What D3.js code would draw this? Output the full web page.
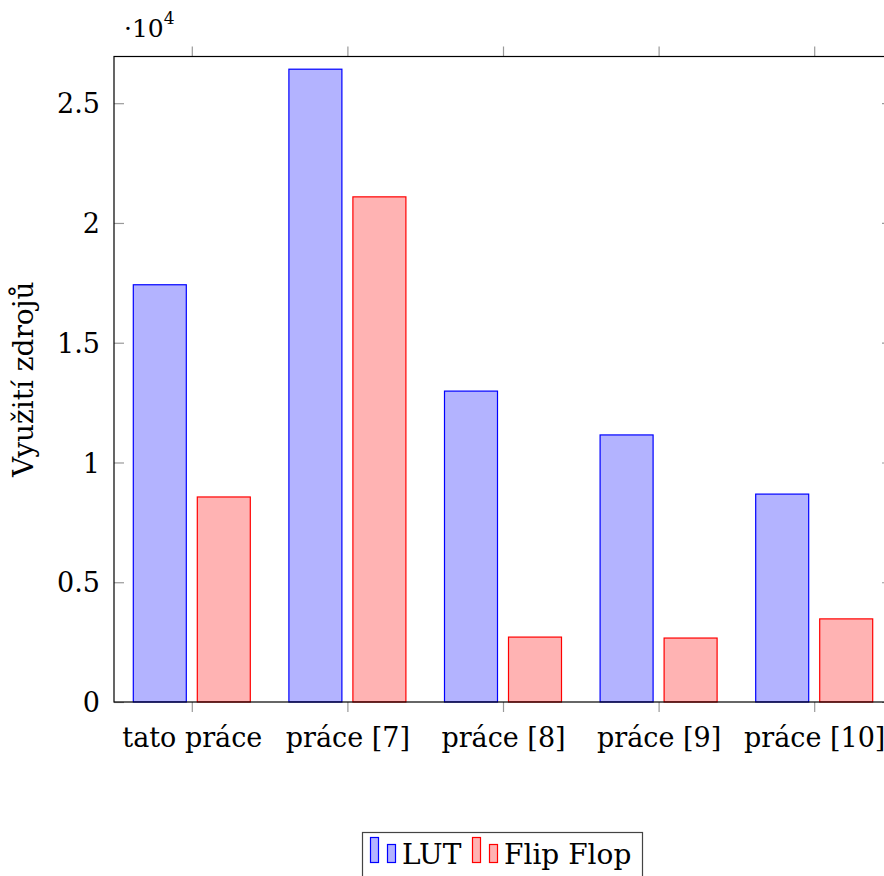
<!DOCTYPE html>
<html>
<head>
<meta charset="utf-8">
<script src="https://cdn.jsdelivr.net/npm/d3@7"></script>
<style>
  body { margin: 0; background: #fff; }
</style>
</head>
<body>
<div id="chart"></div>
<script>
const categories = ["tato práce", "práce [7]", "práce [8]", "práce [9]", "práce [10]"];
const lutValues = [17420, 26420, 12980, 11150, 8680];
const ffValues = [8560, 21090, 2710, 2670, 3470];
const seriesNames = ["LUT", "Flip Flop"];
const yTicks = [0, 5000, 10000, 15000, 20000, 25000];

const w = 884, h = 876;
const padL = 114, padR = 892, padT = 56.5, padB = 702;
const serif = "DejaVu Serif";
const fs = 27;

const svg = d3.select('#chart')
    .append('svg')
    .attr('width', w)
    .attr('height', h)
    .attr('font-family', serif);

const xScale = d3.scaleLinear()
    .domain([-0.5, categories.length - 0.5])
    .range([padL, padR]);

const yScale = d3.scaleLinear()
    .domain([0, 26950])
    .range([padB, padT]);

const barW = 53, offset = 32;

const series = [
    { name: seriesNames[0], values: lutValues, fill: "#b3b3ff", stroke: "#0000ff", dx: -offset },
    { name: seriesNames[1], values: ffValues, fill: "#ffb3b3", stroke: "#ff0000", dx: offset }
];

// bars
series.forEach(s => {
    svg.append('g').selectAll('rect')
        .data(s.values)
        .enter()
        .append('rect')
        .attr('x', (d, i) => xScale(i) + s.dx - barW / 2)
        .attr('y', d => yScale(d))
        .attr('width', barW)
        .attr('height', d => yScale(0) - yScale(d))
        .attr('fill', s.fill)
        .attr('stroke', s.stroke)
        .attr('stroke-width', 1.2);
});

// x ticks (outward top and bottom)
const xIdx = d3.range(categories.length);
const xAxis = d3.axisBottom(xScale).tickValues(xIdx).tickSize(10).tickFormat(i => categories[i]);
const gx = svg.append('g')
    .attr('id', 'x-axis')
    .attr('transform', 'translate(0,' + padB + ')')
    .call(xAxis)
    .attr('font-family', serif)
    .attr('font-size', fs);
gx.select('.domain').remove();
gx.selectAll('.tick line').attr('stroke', '#999').attr('stroke-width', 1.2);
gx.selectAll('.tick text')
    .attr('y', 45)
    .attr('dy', 0);

const gxTop = svg.append('g')
    .attr('transform', 'translate(0,' + padT + ')')
    .call(d3.axisTop(xScale).tickValues(xIdx).tickSize(10).tickFormat(''));
gxTop.select('.domain').remove();
gxTop.selectAll('.tick line').attr('stroke', '#999').attr('stroke-width', 1.2);

// y ticks (inward left and right)
const yAxis = d3.axisLeft(yScale).tickValues(yTicks).tickSize(-10).tickPadding(14)
    .tickFormat(d => String(d / 10000));
const gy = svg.append('g')
    .attr('id', 'y-axis')
    .attr('transform', 'translate(' + padL + ',0)')
    .call(yAxis)
    .attr('font-family', serif)
    .attr('font-size', fs);
gy.select('.domain').remove();
gy.selectAll('.tick line').attr('stroke', '#999').attr('stroke-width', 1.2);
gy.selectAll('.tick text').attr('dy', '0.36em');

const gyR = svg.append('g')
    .attr('transform', 'translate(' + padR + ',0)')
    .call(d3.axisRight(yScale).tickValues(yTicks).tickSize(-10).tickFormat(''));
gyR.select('.domain').remove();
gyR.selectAll('.tick line').attr('stroke', '#999').attr('stroke-width', 1.2);

// spines on top of the tick marks
svg.append('rect')
    .attr('x', padL).attr('y', padT)
    .attr('width', padR - padL).attr('height', padB - padT)
    .attr('fill', 'none').attr('stroke', '#000').attr('stroke-width', 1.2);

// scale factor label
const sf = svg.append('text')
    .attr('x', 124).attr('y', 37)
    .attr('font-size', 25);
sf.append('tspan').text('·10');
sf.append('tspan').attr('dy', -13).attr('font-size', 17).text('4');

// y label
svg.append('text')
    .attr('transform', 'translate(33,' + ((padT + padB) / 2) + ') rotate(-90)')
    .attr('text-anchor', 'middle')
    .attr('font-size', 28)
    .text('Využití zdrojů');

// legend
const lg = svg.append('g');
lg.append('rect')
    .attr('x', 362.5).attr('y', 832.5)
    .attr('width', 280).attr('height', 60)
    .attr('fill', '#fff').attr('stroke', '#444').attr('stroke-width', 1.2);

const legendX = [370, 472];
series.forEach((s, k) => {
    const x0 = legendX[k];
    lg.append('rect')
        .attr('x', x0 + 0.5).attr('y', 837.5).attr('width', 8).attr('height', 25)
        .attr('fill', s.fill).attr('stroke', s.stroke).attr('stroke-width', 1.2);
    lg.append('rect')
        .attr('x', x0 + 17.5).attr('y', 844.5).attr('width', 8).attr('height', 18)
        .attr('fill', s.fill).attr('stroke', s.stroke).attr('stroke-width', 1.2);
    lg.append('text')
        .attr('x', x0 + 32).attr('y', 864)
        .attr('font-size', 28)
        .text(s.name);
});
</script>
</body>
</html>
